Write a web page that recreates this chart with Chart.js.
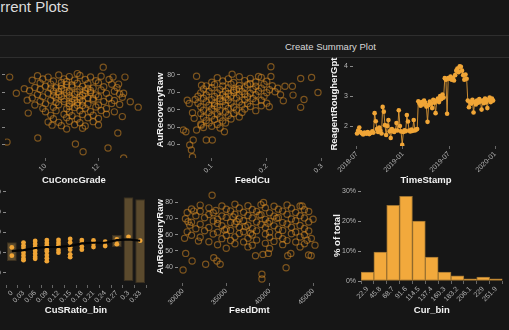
<!DOCTYPE html>
<html>
<head>
<meta charset="utf-8">
<script src="https://cdn.jsdelivr.net/npm/chart.js@4.4.1/dist/chart.umd.min.js"></script>
<style>
  html, body { margin: 0; padding: 0; background: #161616; width: 509px; height: 330px; overflow: hidden; }
  body { position: relative; font-family: 'Liberation Sans', Arial, sans-serif; }
  .page-title { position: absolute; left: -19px; top: -2px; font-size: 15px; line-height: 17px; color: #dcdcdc; white-space: nowrap; }
  .rule { position: absolute; left: 0; width: 509px; height: 1px; background: #2e2e2e; }
  .band { position: absolute; left: 0; top: 36px; width: 509px; height: 21px; background: #191919; }
  .band span { position: absolute; left: 285px; top: 5px; font-size: 9.5px; color: #d8d8d8; white-space: nowrap; }
  canvas { position: absolute; }
</style>
</head>
<body>
<div class="page-title">Current Plots</div>
<div class="band"><span>Create Summary Plot</span></div>
<div class="rule" style="top:35px"></div>
<div class="rule" style="top:57px"></div>

<canvas id="c1" width="183" height="131" style="left:-35px;top:56px"></canvas>
<canvas id="c2" width="175" height="131" style="left:155px;top:56px"></canvas>
<canvas id="c3" width="174" height="131" style="left:329px;top:56px"></canvas>
<canvas id="c4" width="184" height="133" style="left:-34px;top:184px"></canvas>
<canvas id="c5" width="171" height="133" style="left:155px;top:184px"></canvas>
<canvas id="c6" width="171" height="133" style="left:332px;top:184px"></canvas>

<script>
// --- data ---

// CuConcGrade vs AuRecoveryRaw
const gradeRecovery = [
  [9.7,79.4],[10.1,78.6],[10.5,79.8],[10.9,78.9],[11.3,79.5],[11.7,78.7],[12.1,79.1],
  [9.5,76.8],[9.9,77.5],[10.3,76.4],[10.7,77.6],[11.1,76.9],[11.5,77.3],[11.9,76.5],[12.4,77.2],
  [9.8,75.2],[10.2,74.6],[10.6,75.5],[10.8,74.3],[11.2,75.1],[11.6,74.8],[12.0,75.4],[12.5,74.5],
  [9.6,72.7],[10.0,73.4],[10.4,72.5],[10.6,73.6],[11.0,72.9],[11.4,73.3],[11.8,72.4],[12.2,73.1],[12.7,72.6],
  [9.4,70.8],[9.8,71.5],[10.3,70.6],[10.7,71.3],[10.9,70.4],[11.3,71.6],[11.7,70.9],[12.1,71.2],[12.6,70.5],
  [9.7,68.7],[10.1,69.4],[10.5,68.5],[10.8,69.6],[11.1,68.8],[11.5,69.2],[11.9,68.4],[12.3,69.3],[12.8,68.9],
  [9.5,66.6],[9.9,67.3],[10.4,66.8],[10.6,67.5],[11.0,66.4],[11.3,67.2],[11.6,66.7],[12.0,67.4],[12.4,66.5],[12.9,67.1],
  [9.8,64.8],[10.2,65.4],[10.7,64.6],[11.1,65.3],[11.4,64.9],[11.8,65.5],[12.2,64.7],[12.6,65.2],
  [9.6,62.6],[10.0,63.3],[10.5,62.8],[10.9,63.4],[11.2,62.5],[11.6,63.1],[12.0,62.7],[12.5,63.5],[12.8,62.9],
  [9.9,60.7],[10.3,61.4],[10.8,60.5],[11.1,61.2],[11.5,60.8],[11.9,61.5],[12.3,60.6],
  [10.0,58.8],[10.4,59.4],[10.9,58.6],[11.3,59.3],[11.7,58.9],[12.1,59.5],[12.6,58.7],
  [10.2,56.7],[10.7,57.4],[11.0,56.5],[11.4,57.2],[11.8,56.8],[12.3,57.3],
  [10.3,54.8],[10.8,55.4],[11.2,54.6],[11.6,55.3],[12.0,54.9],
  [10.5,52.7],[10.9,53.3],[11.3,52.5],[11.8,53.1],
  [10.6,50.8],[11.1,51.3],[11.5,50.6],[12.0,51.2],[10.8,48.9],[11.4,49.3],
  [10.9,67.9],[11.2,70.1],[10.7,66.0],[11.4,68.2],[11.0,64.2],[10.5,70.2],[11.6,72.1],[10.3,68.1],[11.8,66.3],[11.2,63.9],
  [10.6,71.9],[11.0,74.1],[10.4,64.0],[11.3,65.8],[10.9,61.9],[11.5,71.0],[10.2,72.2],[11.7,69.8],[10.8,76.1],[11.4,62.4],
  [12.18,84.3],[8.65,78.6],[8.9,69.4],[8.55,41.4],[9.71,43.7],[11.13,40.3],[11.42,35.9],[12.36,38.0],
  [12.95,32.3],[13.5,61.4],[12.73,46.6],[9.31,65.4],[9.35,58.0],[13.0,78.6],[12.55,78.6],[12.76,74.6],
  [12.95,69.4],[11.2,80.6],[10.1,52.9],[10.25,51.1],[13.2,64.5],[12.9,56.0],[9.2,72.0]
];

// FeedCu vs AuRecoveryRaw
const feedCuRecovery = [
  [0.11,78.3],[0.13,77.6],[0.15,78.8],[0.17,77.9],[0.19,78.4],
  [0.10,75.7],[0.12,76.4],[0.14,75.5],[0.16,76.6],[0.18,75.8],[0.20,76.3],
  [0.09,73.6],[0.105,74.4],[0.12,73.5],[0.135,74.6],[0.15,73.8],[0.165,74.2],[0.18,73.4],[0.195,74.5],[0.21,73.7],
  [0.085,71.8],[0.10,72.5],[0.115,71.6],[0.13,72.4],[0.145,71.5],[0.16,72.6],[0.175,71.7],[0.19,72.3],[0.205,71.4],[0.22,72.2],
  [0.08,69.6],[0.095,70.4],[0.11,69.5],[0.125,70.6],[0.14,69.8],[0.155,70.3],[0.17,69.4],[0.185,70.5],[0.20,69.7],[0.215,70.2],
  [0.075,67.7],[0.09,68.4],[0.105,67.5],[0.12,68.6],[0.135,67.8],[0.15,68.3],[0.165,67.4],[0.18,68.5],[0.195,67.6],
  [0.07,65.8],[0.085,66.5],[0.10,65.6],[0.115,66.4],[0.13,65.5],[0.145,66.6],[0.16,65.7],[0.175,66.3],[0.19,65.4],
  [0.075,63.6],[0.09,64.4],[0.105,63.5],[0.12,64.6],[0.135,63.8],[0.15,64.3],[0.165,63.4],[0.18,64.5],[0.20,63.7],
  [0.08,61.7],[0.095,62.5],[0.11,61.6],[0.125,62.4],[0.14,61.5],[0.155,62.6],[0.17,61.8],[0.19,62.2],
  [0.085,59.6],[0.10,60.4],[0.115,59.5],[0.13,60.6],[0.145,59.8],[0.16,60.3],[0.18,59.4],
  [0.08,57.7],[0.095,58.4],[0.11,57.5],[0.125,58.6],[0.14,57.8],[0.155,58.3],
  [0.085,55.6],[0.10,56.4],[0.115,55.5],[0.13,56.6],[0.15,55.8],
  [0.09,53.7],[0.105,54.4],[0.12,53.5],[0.135,54.6],
  [0.08,51.6],[0.095,52.4],[0.11,51.5],[0.125,52.3],[0.085,49.7],[0.10,50.4],[0.115,49.5],
  [0.125,67.1],[0.14,70.9],[0.115,64.9],[0.15,72.0],[0.13,69.1],[0.16,68.8],[0.105,62.2],[0.17,74.8],
  [0.0724,79.1],[0.0814,74.0],[0.137,80.3],[0.2075,84.5],[0.185,79.0],[0.2075,79.0],[0.2616,77.8],[0.2814,78.4],
  [0.293,69.8],[0.2676,65.8],[0.2616,61.3],[0.2477,68.3],[0.2465,73.4],[0.233,73.4],[0.23,65.0],[0.2045,61.6],
  [0.0483,48.3],[0.053,47.3],[0.0663,42.6],[0.063,36.9],[0.06,39.7],[0.065,33.0],[0.090,42.6],[0.101,42.6],
  [0.123,47.3],[0.0555,65.4],[0.059,63.5],[0.0724,48.3],[0.081,51.1],[0.065,58.2],[0.068,55.0],[0.225,68.5]
];

// TimeStamp (months after 2018-07) vs ReagentRougherGpt
const tsMonths = [
  0.0,0.15,0.3,0.45,0.6,0.8,1.0,1.2,1.4,1.6,1.8,2.0,2.15,2.3,2.45,2.6,2.75,2.9,3.05,3.2,
  3.35,3.5,3.65,3.8,3.95,4.1,4.25,4.4,4.55,4.7,4.85,5.0,5.15,5.3,5.45,5.6,5.75,5.9,6.05,6.2,
  6.35,6.5,6.65,6.8,6.95,7.1,7.25,7.4,7.55,7.7,7.85,8.0,8.15,8.3,8.45,8.6,8.75,8.9,9.05,9.2,
  9.35,9.5,9.65,9.8,9.95,10.1,10.25,10.4,10.55,10.7,10.85,11.0,11.15,11.3,11.45,11.6,11.75,11.9,12.05,12.2,
  12.35,12.5,12.65,12.8,12.95,13.1,13.25,13.4,13.55,13.7,13.85,14.0,14.15,14.3,14.45,14.6,14.75,14.9,15.05,15.2,
  15.35,15.5,15.65,15.8,15.95,16.1,16.25,16.4,16.55,16.7,16.85,17.0,17.15,17.3,17.45,17.6,17.75
];
const tsReagent = [
  1.75,1.85,1.95,1.8,1.76,1.72,1.78,1.74,1.8,1.73,1.77,1.82,1.78,2.43,2.16,1.9,1.8,1.95,1.85,1.75,
  2.64,2.48,2.03,1.7,2.0,2.2,1.82,1.6,1.9,1.83,1.8,1.85,2.1,1.85,2.53,2.0,1.82,1.37,1.8,1.86,
  1.83,2.37,2.15,1.85,1.82,1.88,1.84,2.2,1.85,1.88,1.9,2.83,2.75,2.68,2.8,2.72,2.85,2.78,2.65,2.14,
  2.7,2.82,2.75,2.6,2.88,2.78,2.43,2.85,2.92,2.8,3.0,2.9,3.05,2.95,3.6,3.55,2.41,3.6,3.58,3.65,
  3.55,3.6,3.52,3.7,3.85,3.92,3.8,4.0,3.98,3.85,3.7,3.55,3.72,3.58,2.85,2.63,2.8,2.75,2.88,2.45,
  2.8,2.72,2.85,2.78,2.9,2.82,2.55,2.85,2.76,2.92,2.8,2.6,2.88,2.95,2.8,2.92,2.85
];
const dateTicks = ['2018-07', '2019-01', '2019-07', '2020-01'];

// CuSRatio_bin box plot of AuRecoveryRaw
const ratioBins = ['0','0.03','0.06','0.09','0.12','0.15','0.18','0.21','0.24','0.27','0.3','0.33'];
const ratioQ1 = [55.9, null, null, null, null, null, null, null, null, 62.8, 46.0, 45.0];
const ratioQ3 = [65.2, null, null, null, null, null, null, null, null, 68.7, 87.4, 86.4];
const ratioMedian = [60.8, 61.3, 62.3, 62.8, 62.9, 63.3, 64.6, 64.9, 64.9, 66.2, 66.6, 65.9];
const ratioPoints = [
  ['0',62.6],['0',58.5],
  ['0.03',65.0],['0.03',63.5],['0.03',62.3],['0.03',60.0],['0.03',58.5],['0.03',57.0],['0.03',56.3],
  ['0.06',65.8],['0.06',64.3],['0.06',62.8],['0.06',61.0],['0.06',59.5],['0.06',58.0],['0.06',57.0],
  ['0.09',66.2],['0.09',64.8],['0.09',63.5],['0.09',61.5],['0.09',60.6],['0.09',58.8],['0.09',57.3],['0.09',55.8],
  ['0.12',66.3],['0.12',64.8],['0.12',63.5],['0.12',61.3],['0.12',60.0],
  ['0.15',66.8],['0.15',65.0],['0.15',62.7],['0.15',61.5],['0.15',59.2],['0.15',57.8],
  ['0.18',66.2],['0.18',65.0],['0.18',63.0],['0.18',61.5],
  ['0.21',66.0],['0.21',64.6],['0.21',62.8],
  ['0.24',65.4],['0.24',63.3],
  ['0.27',66.5],['0.27',64.2],
  ['0.3',67.8],['0.33',65.9]
];

// FeedDmt vs AuRecoveryRaw
const feedDmtRecovery = [
  [32000,78.2],[34500,77.6],[36000,78.7],[37500,77.8],[39000,78.4],[40500,77.5],[42000,78.3],[43500,77.7],
  [31000,75.8],[33000,76.5],[35000,75.6],[36500,76.4],[38000,75.5],[39500,76.6],[41000,75.7],[42500,76.3],[44000,75.4],
  [30500,73.7],[32000,74.4],[33500,73.5],[35500,74.6],[37000,73.8],[38500,74.3],[40000,73.4],[41500,74.5],[43000,73.6],[44500,74.2],
  [31500,71.6],[33000,72.4],[34500,71.5],[36000,72.6],[37500,71.8],[39000,72.3],[40500,71.4],[42000,72.5],[43500,71.7],
  [30300,69.8],[32500,70.4],[34000,69.5],[35000,70.6],[36500,69.7],[38000,70.3],[39500,69.4],[41000,70.5],[42500,69.6],[44000,70.2],[45000,69.5],
  [31000,67.6],[33500,68.4],[35500,67.5],[37000,68.6],[38500,67.7],[40000,68.3],[41500,67.4],[43000,68.5],[44500,67.8],
  [30800,65.7],[32000,66.4],[34500,65.5],[36000,66.6],[37500,65.8],[39000,66.3],[40500,65.4],[42000,66.5],[43500,65.6],
  [31500,63.6],[33000,64.4],[35000,63.5],[36500,64.6],[38000,63.7],[39500,64.3],[41000,63.4],[42500,64.5],[44000,63.8],
  [30500,61.7],[32500,62.4],[34000,61.5],[35500,62.6],[37000,61.8],[38500,62.3],[40000,61.4],[41500,62.5],[43000,61.6],[44500,62.2],
  [31000,59.6],[33500,60.4],[35000,59.5],[36500,60.6],[38000,59.7],[39500,60.3],[41000,59.4],[42500,60.5],[44000,59.8],
  [30200,57.7],[32000,58.4],[34500,57.5],[36000,58.6],[37500,57.8],[40000,58.3],[41500,57.4],[43500,58.5],[44800,57.6],
  [33000,55.6],[35500,56.4],[37000,55.5],[38500,56.6],[40500,55.8],[42000,56.3],[43000,55.4],[44300,56.5],
  [34000,53.7],[36000,54.4],[38000,53.5],[39500,54.6],[41500,53.8],[44000,54.3],
  [35000,51.6],[37500,52.4],[40000,51.5],[43500,52.3],
  [34000,66.9],[35800,70.9],[37200,64.9],[38800,72.0],[36200,68.1],[39800,67.0],[34800,62.9],[37800,60.9],[33800,74.9],[40800,70.1],
  [33370,84.3],[30030,38.2],[30330,48.4],[31070,43.7],[32630,41.7],[33560,45.7],[33930,43.7],[34300,41.7],
  [38370,47.0],[39110,35.5],[39110,32.6],[39850,48.4],[39220,47.8],[41890,39.6],[42080,47.0],[42440,48.4],
  [44480,47.4],[44780,47.0],[45220,53.5],[39300,79.8],[43740,77.7],[31260,74.5],[30600,68.0],[31800,56.0]
];
const feedDmtTicks = [30000, 35000, 40000, 45000];

// Cur_bin histogram
const curBins = ['22.9','45.8','68.7','91.6','114.5','137.4','160.3','183.2','206.1','229','251.9'];
const curPercent = [3.0, 9.7, 25.3, 28.3, 20.0, 8.0, 3.0, 1.7, 0.7, 1.3, 0.7];

// --- shared styling ---
const FONT = "'Liberation Sans', Arial, sans-serif";
const tickFont = { family: FONT, size: 7 };
const titleFont = { family: FONT, size: 9.5, weight: 'bold' };
const ORANGE = '#f0a536';
const RING = 'rgba(226,146,38,0.5)';

function xAxis(height, title, extra) {
  return Object.assign({
    afterFit: (s) => { s.height = height; },
    grid: { drawOnChartArea: false, drawTicks: true, tickLength: 3, color: '#666' },
    border: { display: false },
    title: { display: true, text: title, color: '#f2f2f2', font: titleFont, padding: { top: 0, bottom: 1 } },
  }, extra);
}
function yAxis(width, title, extra) {
  return Object.assign({
    afterFit: (s) => { s.width = width; },
    grid: { drawOnChartArea: false, drawTicks: true, tickLength: 3, color: '#888' },
    border: { display: false },
    title: { display: true, text: title, color: '#f2f2f2', font: titleFont, padding: { top: 0, bottom: 0 } },
  }, extra);
}
function xTicks(extra) {
  return Object.assign({ color: '#b5b5b5', font: tickFont, minRotation: 45, maxRotation: 45, padding: 1, autoSkip: false }, extra);
}
function yTicks(extra) {
  return Object.assign({ color: '#b5b5b5', font: tickFont, padding: 2 }, extra);
}
const baseOptions = {
  responsive: false,
  animation: false,
  devicePixelRatio: 1,
  layout: { padding: 0 },
  plugins: { legend: { display: false }, tooltip: { enabled: false } },
};
function scatterSet(points) {
  return {
    data: points.map(p => ({ x: p[0], y: p[1] })),
    pointRadius: 3.1,
    pointBorderWidth: 1.2,
    pointBorderColor: RING,
    pointBackgroundColor: 'rgba(0,0,0,0)',
  };
}

// 1. CuConcGrade scatter
new Chart(document.getElementById('c1'), {
  type: 'scatter',
  data: { datasets: [scatterSet(gradeRecovery)] },
  options: Object.assign({}, baseOptions, {
    scales: {
      x: xAxis(29, 'CuConcGrade', { min: 8.473, max: 13.673, ticks: xTicks({ stepSize: 2, includeBounds: false }) }),
      y: yAxis(40, 'AuRecoveryRaw', { min: 32.29, max: 87.14, ticks: yTicks({ stepSize: 10, includeBounds: false }) }),
    },
  }),
});

// 2. FeedCu scatter
new Chart(document.getElementById('c2'), {
  type: 'scatter',
  data: { datasets: [scatterSet(feedCuRecovery)] },
  options: Object.assign({}, baseOptions, {
    scales: {
      x: xAxis(29, 'FeedCu', { min: 0.0423, max: 0.3054, ticks: xTicks({ stepSize: 0.1, includeBounds: false }) }),
      y: yAxis(25, 'AuRecoveryRaw', { min: 32.29, max: 87.14, ticks: yTicks({ stepSize: 10, includeBounds: false }) }),
    },
  }),
});

// 3. ReagentRougherGpt over time
new Chart(document.getElementById('c3'), {
  type: 'line',
  data: {
    datasets: [{
      data: tsMonths.map((m, i) => ({ x: m, y: tsReagent[i] })),
      borderColor: 'rgba(232,160,56,0.85)',
      borderWidth: 1,
      pointRadius: 2.3,
      pointBorderWidth: 0,
      pointBackgroundColor: ORANGE,
      tension: 0,
    }],
  },
  options: Object.assign({}, baseOptions, {
    scales: {
      x: xAxis(41, 'TimeStamp', {
        type: 'linear', min: -0.52, max: 18.52,
        ticks: xTicks({ stepSize: 6, includeBounds: false, callback: (v) => dateTicks[Math.round(v / 6)] }),
      }),
      y: yAxis(24, 'ReagentRougherGpt', { min: 1.333, max: 4.133, ticks: yTicks({ stepSize: 1, includeBounds: false }) }),
    },
  }),
});

// 4. CuSRatio_bin box plot
new Chart(document.getElementById('c4'), {
  type: 'bar',
  data: {
    labels: ratioBins,
    datasets: [
      {
        type: 'line', order: 0,
        data: ratioMedian,
        borderColor: '#050505', borderWidth: 2.2, pointRadius: 0, tension: 0,
      },
      {
        type: 'line', order: 1, showLine: false,
        data: ratioPoints.map(p => ({ x: p[0], y: p[1] })),
        pointRadius: 2.4, pointBorderWidth: 0, pointBackgroundColor: ORANGE,
      },
      {
        type: 'bar', order: 2,
        data: ratioQ1.map((q, i) => (q === null ? null : [q, ratioQ3[i]])),
        backgroundColor: 'rgba(112,90,52,0.78)',
        borderColor: '#3a3020', borderWidth: 1, borderSkipped: false,
        categoryPercentage: 1, barPercentage: 0.84,
      },
    ],
  },
  options: Object.assign({}, baseOptions, {
    scales: {
      x: xAxis(32, 'CuSRatio_bin', { ticks: xTicks() }),
      y: yAxis(40, 'AuRecoveryRaw', { min: 44.04, max: 90.84, ticks: yTicks({ stepSize: 10, includeBounds: false }) }),
    },
  }),
});

// 5. FeedDmt scatter
new Chart(document.getElementById('c5'), {
  type: 'scatter',
  data: { datasets: [scatterSet(feedDmtRecovery)] },
  options: Object.assign({}, baseOptions, {
    scales: {
      x: xAxis(34, 'FeedDmt', {
        min: 29444, max: 45889,
        afterBuildTicks: (s) => { s.ticks = feedDmtTicks.map(v => ({ value: v })); },
        ticks: xTicks({ callback: (v) => String(v) }),
      }),
      y: yAxis(23, 'AuRecoveryRaw', { min: 30.15, max: 87.38, ticks: yTicks({ stepSize: 10, includeBounds: false }) }),
    },
  }),
});

// 6. Cur_bin histogram
new Chart(document.getElementById('c6'), {
  type: 'bar',
  data: {
    labels: curBins,
    datasets: [{
      data: curPercent,
      backgroundColor: '#f2a93c',
      borderColor: '#9c7230',
      borderWidth: 1,
      borderSkipped: false,
      categoryPercentage: 1,
      barPercentage: 1,
    }],
  },
  options: Object.assign({}, baseOptions, {
    scales: {
      x: xAxis(36, 'Cur_bin', { ticks: xTicks() }),
      y: yAxis(29, '% of total', {
        min: 0, max: 30.33,
        ticks: yTicks({ stepSize: 10, includeBounds: false, callback: (v) => v + '%' }),
      }),
    },
  }),
});
</script>
</body>
</html>
